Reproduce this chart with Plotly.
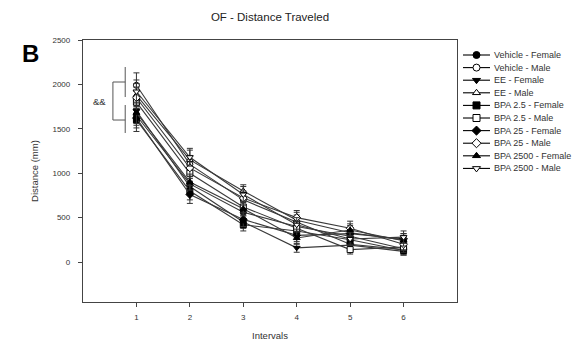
import plotly.graph_objects as go

# Open-field test: distance traveled per interval, mean ± SEM per group
intervals = [1, 2, 3, 4, 5, 6]

groups = [
    "Vehicle - Female", "Vehicle - Male",
    "EE - Female", "EE - Male",
    "BPA 2.5 - Female", "BPA 2.5 - Male",
    "BPA 25 - Female", "BPA 25 - Male",
    "BPA 2500 - Female", "BPA 2500 - Male",
]

vehicle_f = [1650, 880, 560, 400, 290, 150]
vehicle_m = [1990, 1100, 700, 450, 200, 140]
ee_f = [1700, 850, 450, 160, 190, 120]
ee_m = [1880, 1150, 800, 470, 330, 250]
bpa2_5_f = [1600, 800, 420, 350, 250, 130]
bpa2_5_m = [1800, 1000, 620, 380, 140, 170]
bpa25_f = [1620, 760, 480, 300, 320, 260]
bpa25_m = [1850, 1060, 720, 500, 380, 200]
bpa2500_f = [1680, 900, 600, 270, 360, 240]
bpa2500_m = [1920, 1180, 760, 420, 260, 280]

sem_vehicle_f = [110, 90, 80, 70, 60, 50]
sem_vehicle_m = [140, 100, 80, 80, 70, 60]
sem_ee_f = [120, 90, 70, 50, 60, 40]
sem_ee_m = [130, 110, 70, 90, 80, 70]
sem_bpa2_5_f = [130, 100, 70, 70, 60, 50]
sem_bpa2_5_m = [120, 90, 80, 80, 50, 60]
sem_bpa25_f = [110, 100, 80, 70, 70, 60]
sem_bpa25_m = [120, 100, 80, 80, 80, 70]
sem_bpa2500_f = [120, 90, 80, 70, 70, 60]
sem_bpa2500_m = [130, 100, 90, 80, 70, 70]

series = [vehicle_f, vehicle_m, ee_f, ee_m, bpa2_5_f, bpa2_5_m,
          bpa25_f, bpa25_m, bpa2500_f, bpa2500_m]
errors = [sem_vehicle_f, sem_vehicle_m, sem_ee_f, sem_ee_m, sem_bpa2_5_f,
          sem_bpa2_5_m, sem_bpa25_f, sem_bpa25_m, sem_bpa2500_f, sem_bpa2500_m]

symbols = ["circle", "circle", "triangle-down", "triangle-up", "square", "square",
           "diamond", "diamond", "triangle-up", "triangle-down"]
filled = [True, False, True, False, True, False, True, False, True, False]

y_ticks = [0, 500, 1000, 1500, 2000, 2500]

FONT = "Arial, Liberation Sans, sans-serif"
LINE = "#3a3a3a"
TEXT = "#333"

fig = go.Figure()

for name, vals, err, sym, fill in zip(groups, series, errors, symbols, filled):
    fig.add_trace(go.Scatter(
        x=intervals, y=vals, name=name, mode="lines+markers",
        line=dict(color=LINE, width=1.1),
        marker=dict(symbol=sym, size=6, color="black" if fill else "white",
                    line=dict(color="black", width=1)),
        error_y=dict(type="data", array=err, visible=True, color="#333",
                     thickness=1, width=3),
        showlegend=False, xaxis="x", yaxis="y",
    ))

# Legend drawn as glyph rows on a helper axis
for i, (name, sym, fill) in enumerate(zip(groups, symbols, filled)):
    fig.add_trace(go.Scatter(
        x=[0, 1], y=[i, i], mode="lines", line=dict(color="black", width=1.1),
        showlegend=False, xaxis="x2", yaxis="y2", hoverinfo="skip",
    ))
    fig.add_trace(go.Scatter(
        x=[0.5], y=[i], mode="markers",
        marker=dict(symbol=sym, size=7, color="black" if fill else "white",
                    line=dict(color="black", width=1)),
        showlegend=False, xaxis="x2", yaxis="y2", hoverinfo="skip",
    ))
    fig.add_annotation(
        x=(494 - 83) / 496, xref="paper", y=i, yref="y2", text=name,
        showarrow=False, xanchor="left", yanchor="middle", xshift=-2,
        font=dict(family=FONT, size=9, color=TEXT),
    )

# Significance bracket between groups at interval 1
bracket = "#555"
for x0, x1, y0, y1 in [(0.79, 0.79, 2196, 1858), (0.79, 0.79, 1768, 1453),
                       (0.56, 0.56, 2027, 1599), (0.56, 0.79, 2027, 2027),
                       (0.56, 0.79, 1599, 1599)]:
    fig.add_shape(type="line", x0=x0, x1=x1, y0=y0, y1=y1, xref="x", yref="y",
                  line=dict(color=bracket, width=1))
fig.add_annotation(x=0.3, y=1810, xref="x", yref="y", text="&&", showarrow=False,
                   font=dict(family=FONT, size=9.5, color=TEXT))

# Panel letter
fig.add_annotation(x=(20 - 83) / 496, y=(302 - 38) / 262, xref="paper", yref="paper",
                   text="<b>B</b>", showarrow=False,
                   font=dict(family=FONT, size=24, color="black"))

axis_font = dict(family=FONT, size=8, color=TEXT)
label_font = dict(family=FONT, size=9.5, color=TEXT)

fig.update_layout(
    width=579, height=341,
    margin=dict(l=83, r=0, t=40, b=39),
    paper_bgcolor="white", plot_bgcolor="white",
    title=dict(text="OF - Distance Traveled", x=270 / 579, xref="container",
               xanchor="center", y=1 - 17 / 341, yanchor="middle",
               font=dict(family=FONT, size=11.5, color="#222")),
    xaxis=dict(domain=[0, 374 / 496], range=[0, 7], tickvals=intervals,
               ticks="outside", ticklen=4, tickcolor="#444", showgrid=False,
               zeroline=False, showline=True, linecolor="#444", linewidth=1.3,
               mirror=True, tickfont=axis_font, ticklabelstandoff=3,
               title=dict(text="Intervals", font=label_font, standoff=14)),
    yaxis=dict(range=[-450, 2500], tickvals=y_ticks, ticks="outside", ticklen=4,
               tickcolor="#444", showgrid=False, zeroline=False, showline=True,
               linecolor="#444", linewidth=1.3, mirror=True, tickfont=axis_font,
               ticklabelstandoff=6,
               title=dict(text="Distance (mm)", font=label_font, standoff=12)),
    xaxis2=dict(domain=[380 / 496, 407 / 496], range=[0, 1], visible=False,
                anchor="y2"),
    yaxis2=dict(domain=[0, 1], range=[19.6, -1.19], visible=False, anchor="x2"),
)

fig.write_html("out.html")
